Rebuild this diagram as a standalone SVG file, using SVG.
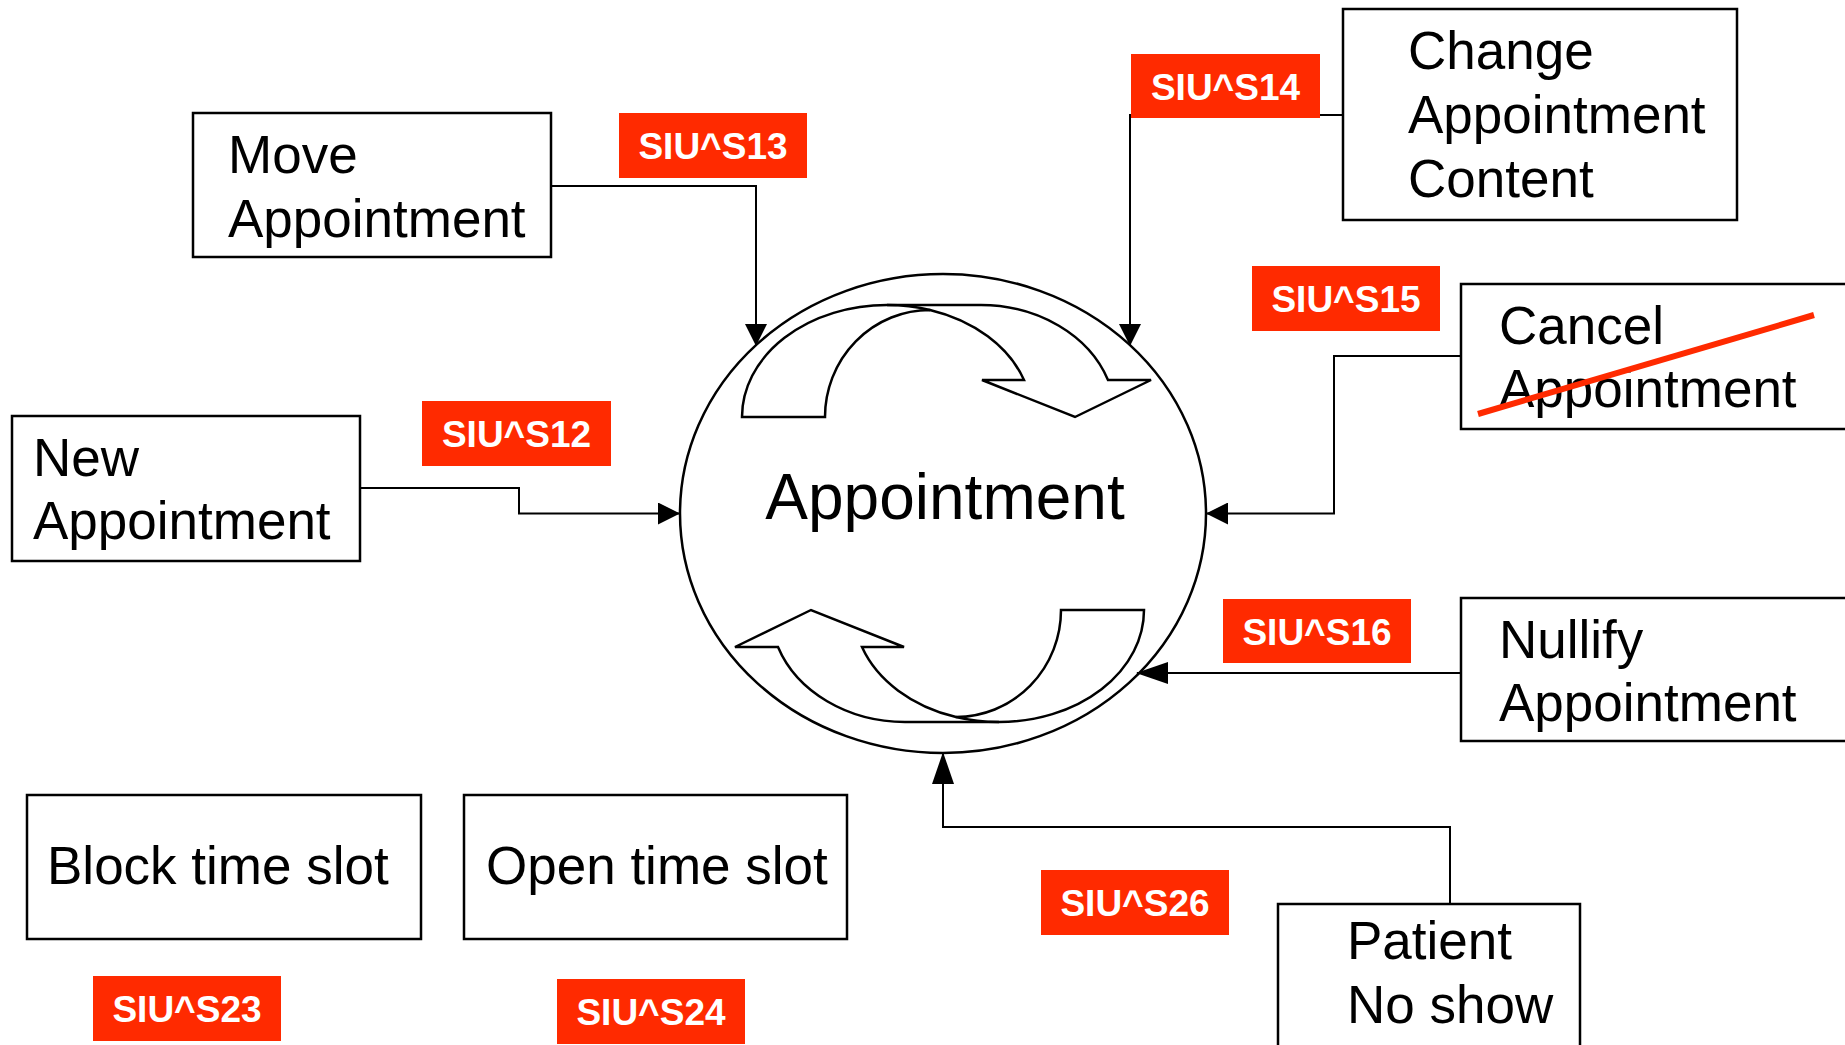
<svg xmlns="http://www.w3.org/2000/svg" width="1845" height="1045" viewBox="0 0 1845 1045">
<style>
.box{fill:#fff;stroke:#000;stroke-width:2.5}
.t{font-family:"Liberation Sans",Arial,sans-serif;font-size:53px;fill:#000}
.big{font-family:"Liberation Sans",Arial,sans-serif;font-size:64px;fill:#000}
.badge{fill:#ff2a00}
.bt{font-family:"Liberation Sans",Arial,sans-serif;font-size:37px;font-weight:bold;fill:#fff;text-anchor:middle}
.conn{fill:none;stroke:#000;stroke-width:2}
.cyc{fill:#fff;stroke:#000;stroke-width:2.5;stroke-linejoin:miter}
</style>
<defs>
<marker id="arr" markerUnits="userSpaceOnUse" markerWidth="22" markerHeight="22" viewBox="0 0 22 22" refX="21" refY="11" orient="auto">
<path d="M0,0 L22,11 L0,22 Z" fill="#000"/>
</marker>
<marker id="arrL" markerUnits="userSpaceOnUse" markerWidth="32" markerHeight="22" viewBox="0 0 32 22" refX="31" refY="11" orient="auto">
<path d="M0,0 L32,11 L0,22 Z" fill="#000"/>
</marker>
<g id="cycArrow">
<path class="cyc" d="M 742 417 A 145 112 0 0 1 887 305 L 981 305 A 135 112 0 0 1 1108 380 L 1151 380 L 1075 417 L 982 380 L 1024 380 A 145 112 0 0 0 930 310 A 105 107 0 0 0 825 417 Z"/>
<path class="cyc" fill="none" d="M 930 310 A 145 112 0 0 0 887 305"/>
</g>
</defs>
<rect width="1845" height="1045" fill="#fff"/>

<g id="appointment">
<ellipse cx="943" cy="513.5" rx="263" ry="239.5" fill="#fff" stroke="#000" stroke-width="2.5"/>
<use href="#cycArrow"/>
<use href="#cycArrow" transform="rotate(180 943 513.5)"/>
<text class="big" x="945" y="519" text-anchor="middle">Appointment</text>
</g>

<g id="connectors">
<path class="conn" d="M551,186 H756 V345" marker-end="url(#arr)"/>
<path class="conn" d="M360,488 H519 V513.5 H679" marker-end="url(#arr)"/>
<path class="conn" d="M1343,115 H1130 V345" marker-end="url(#arr)"/>
<path class="conn" d="M1461,356 H1334 V513.5 H1207" marker-end="url(#arr)"/>
<path class="conn" d="M1461,673 H1137" marker-end="url(#arrL)"/>
<path class="conn" d="M1450,904 V827 H943 V753" marker-end="url(#arrL)"/>
</g>

<g id="move">
<rect class="box" x="193" y="113" width="358" height="144"/>
<text class="t" x="228" y="173">Move</text>
<text class="t" x="228" y="237">Appointment</text>
</g>
<g id="new">
<rect class="box" x="12" y="416" width="348" height="145"/>
<text class="t" x="33" y="476">New</text>
<text class="t" x="33" y="539">Appointment</text>
</g>
<g id="change">
<rect class="box" x="1343" y="9" width="394" height="211"/>
<text class="t" x="1408" y="69">Change</text>
<text class="t" x="1408" y="133">Appointment</text>
<text class="t" x="1408" y="197">Content</text>
</g>
<g id="cancel">
<rect class="box" x="1461" y="284" width="400" height="145"/>
<text class="t" x="1499" y="344">Cancel</text>
<text class="t" x="1499" y="407">Appointment</text>
<line x1="1478" y1="414" x2="1814" y2="315" stroke="#ff2a00" stroke-width="6"/>
</g>
<g id="nullify">
<rect class="box" x="1461" y="598" width="400" height="143"/>
<text class="t" x="1499" y="658">Nullify</text>
<text class="t" x="1499" y="721">Appointment</text>
</g>
<g id="noshow">
<rect class="box" x="1278" y="904" width="302" height="160"/>
<text class="t" x="1347" y="959">Patient</text>
<text class="t" x="1347" y="1023">No show</text>
</g>
<g id="block">
<rect class="box" x="27" y="795" width="394" height="144"/>
<text class="t" x="47" y="884">Block time slot</text>
</g>
<g id="open">
<rect class="box" x="464" y="795" width="383" height="144"/>
<text class="t" x="486" y="884">Open time slot</text>
</g>

<g id="s13"><rect class="badge" x="619" y="113" width="188" height="65"/><text class="bt" x="713" y="158.5">SIU^S13</text></g>
<g id="s12"><rect class="badge" x="422" y="401" width="189" height="65"/><text class="bt" x="516.5" y="446.5">SIU^S12</text></g>
<g id="s14"><rect class="badge" x="1131" y="54" width="189" height="64"/><text class="bt" x="1225.5" y="99.5">SIU^S14</text></g>
<g id="s15"><rect class="badge" x="1252" y="266" width="188" height="65"/><text class="bt" x="1346" y="311.5">SIU^S15</text></g>
<g id="s16"><rect class="badge" x="1223" y="599" width="188" height="64"/><text class="bt" x="1317" y="644.5">SIU^S16</text></g>
<g id="s26"><rect class="badge" x="1041" y="870" width="188" height="65"/><text class="bt" x="1135" y="915.5">SIU^S26</text></g>
<g id="s23"><rect class="badge" x="93" y="976" width="188" height="65"/><text class="bt" x="187" y="1021.5">SIU^S23</text></g>
<g id="s24"><rect class="badge" x="557" y="979" width="188" height="65"/><text class="bt" x="651" y="1024.5">SIU^S24</text></g>
</svg>
